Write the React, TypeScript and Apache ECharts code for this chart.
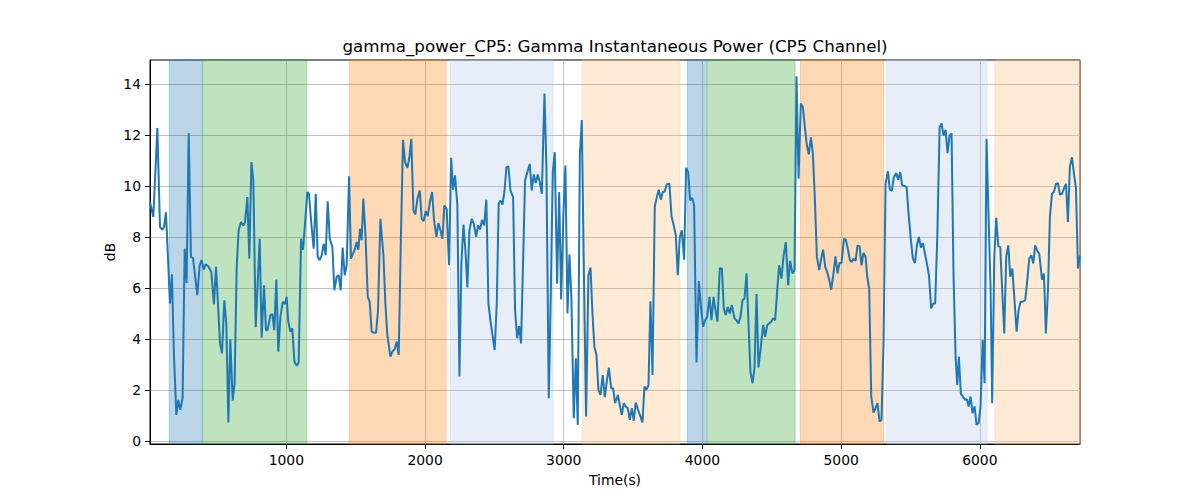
import React, { useEffect, useRef } from "react";
import * as echarts from "echarts";

const TITLE = "gamma_power_CP5: Gamma Instantaneous Power (CP5 Channel)";
const X_NAME = "Time(s)";
const Y_NAME = "dB";

const timeSec = [
  17, 41, 70, 89, 106, 118, 132, 161, 175, 190, 207, 221, 235, 252, 267, 281, 296, 312, 327, 358, 375, 389, 404, 418, 437, 459, 478, 493, 522, 536, 553, 567, 582, 596, 613, 627, 642, 656, 673, 690, 702, 719, 733, 748, 762, 779, 808, 822, 839,
  853, 865, 885, 899, 913, 928, 942, 957, 974, 990, 1002, 1014, 1029, 1043, 1058, 1074, 1089, 1106, 1120, 1135, 1151, 1163, 1180, 1197, 1212, 1226, 1240, 1255, 1269, 1284, 1298, 1313, 1332, 1346, 1363, 1377, 1392, 1406, 1421, 1435, 1452, 1466, 1481, 1495, 1507, 1519, 1531, 1543, 1555, 1570, 1587, 1601, 1615, 1630, 1647, 1661, 1678,
  1700, 1714, 1728, 1750, 1764, 1781, 1796, 1810, 1825, 1841, 1856, 1873, 1887, 1901, 1916, 1930, 1945, 1962, 1976, 1990, 2005, 2019, 2036, 2051, 2065, 2082, 2096, 2111, 2125, 2139, 2156, 2173, 2188, 2202, 2216, 2233, 2248, 2262, 2277, 2291, 2305, 2320, 2337, 2351, 2368, 2382, 2397, 2411, 2426, 2442, 2457, 2471, 2488, 2502, 2517, 2531,
  2543, 2558, 2572, 2587, 2601, 2616, 2635, 2649, 2664, 2678, 2692, 2707, 2721, 2741, 2755, 2769, 2784, 2798, 2813, 2827, 2842, 2861, 2875, 2892, 2906, 2921, 2935, 2952, 2967, 2981, 2998, 3012, 3027, 3041, 3055, 3072, 3087, 3101, 3116, 3130, 3147, 3161, 3178, 3193, 3207, 3221, 3236, 3250, 3265, 3281, 3296, 3310, 3325, 3342, 3356, 3370,
  3390, 3404, 3418, 3433, 3447, 3462, 3476, 3491, 3505, 3519, 3536, 3553, 3567, 3582, 3596, 3611, 3625, 3640, 3656, 3671, 3685, 3700, 3714, 3728, 3743, 3762, 3777, 3793, 3808, 3822, 3837, 3851, 3868, 3882, 3897, 3911, 3926, 3940, 3957, 3974, 3988, 4005, 4019, 4034, 4051, 4065, 4080, 4094, 4108, 4125, 4140, 4154, 4168, 4183, 4197, 4212,
  4231, 4245, 4260, 4274, 4289, 4303, 4318, 4332, 4346, 4361, 4375, 4390, 4404, 4421, 4438, 4452, 4467, 4481, 4495, 4510, 4524, 4539, 4553, 4570, 4584, 4601, 4618, 4632, 4649, 4664, 4678, 4693, 4709, 4724, 4738, 4753, 4767, 4782, 4796, 4810, 4825, 4842, 4856, 4870, 4885, 4899, 4914, 4928, 4943, 4959, 4974, 4988, 5003, 5020, 5034, 5048, 5063,
  5075, 5089, 5104, 5118, 5133, 5147, 5161, 5176, 5188, 5202, 5217, 5233, 5248, 5262, 5277, 5291, 5306, 5320, 5337, 5351, 5366, 5380, 5397, 5411, 5426, 5440, 5455, 5472, 5486, 5503, 5517, 5532, 5546, 5560, 5575, 5589, 5604, 5618, 5633, 5649, 5664, 5678, 5693, 5710, 5724, 5738, 5753, 5767, 5782, 5796, 5810, 5825, 5837, 5849, 5863, 5878, 5892, 5907,
  5919, 5933, 5947, 5962, 5976, 5991, 6005, 6020, 6034, 6048, 6063, 6077, 6089, 6104, 6118, 6133, 6147, 6161, 6176, 6190, 6205, 6219, 6234, 6248, 6265, 6279, 6294, 6308, 6327, 6342, 6356, 6371, 6385, 6399, 6414, 6428, 6448, 6462, 6476, 6491, 6505, 6520, 6534, 6549, 6563, 6577, 6592, 6606, 6621, 6635, 6649, 6664, 6678, 6693, 6707, 6722,
];

const gammaDb = [
  9.38, 8.79, 12.28, 8.40, 8.29, 8.40, 8.98, 5.40, 6.55, 3.32, 1.04, 1.63, 1.24, 1.69, 7.55, 6.21, 12.07, 7.23, 7.19, 5.73, 6.90, 7.10, 6.73, 6.94, 6.86, 6.64, 5.38, 6.84, 3.84, 3.45, 5.53, 4.62, 0.74, 4.00, 1.60, 2.28, 6.84, 8.27, 8.59, 8.46, 8.59, 9.57, 7.16, 10.94, 10.22, 4.47, 7.94, 4.06, 6.12,
  4.36, 4.36, 4.95, 4.99, 4.36, 6.34, 3.52, 4.88, 5.47, 5.38, 5.66, 4.69, 4.30, 4.43, 3.13, 2.96, 3.09, 7.94, 7.51, 8.55, 9.77, 9.70, 8.53, 7.55, 9.70, 7.23, 7.10, 7.29, 7.75, 7.29, 9.41, 7.94, 7.62, 5.92, 6.45, 6.51, 5.92, 7.59, 6.51, 6.90, 10.39, 7.16, 7.36, 7.55, 7.81, 7.51, 8.33, 7.88, 9.51, 8.14, 5.66, 5.47, 4.30, 4.26, 4.26, 5.14, 8.72,
  7.29, 5.40, 4.17, 3.32, 3.52, 3.61, 3.91, 3.39, 7.75, 11.81, 10.94, 10.72, 11.13, 11.85, 9.05, 8.89, 9.51, 9.83, 8.72, 8.63, 9.02, 8.82, 9.41, 9.77, 8.66, 8.01, 8.55, 8.27, 7.94, 9.24, 9.10, 6.90, 11.11, 9.86, 10.42, 9.24, 2.54, 6.97, 8.49, 7.49, 6.03, 8.27, 8.72, 8.53, 8.01, 8.46, 8.31, 8.68, 8.46, 9.47, 5.40, 4.75, 4.10, 3.58, 5.40, 9.31,
  9.44, 9.28, 9.77, 10.74, 10.77, 9.83, 9.57, 5.14, 4.04, 4.52, 3.84, 7.10, 10.22, 10.61, 10.87, 9.83, 10.46, 10.12, 10.46, 10.16, 9.70, 13.63, 10.74, 1.69, 5.66, 10.55, 11.33, 6.18, 9.77, 5.56, 8.98, 10.81, 5.01, 7.32, 5.66, 0.91, 3.26, 0.65, 11.20, 12.59, 5.92, 0.98, 6.51, 6.81, 5.01, 3.71, 3.39, 2.02, 1.82, 2.60, 1.73, 2.34, 2.89, 2.08, 2.08, 1.50,
  1.82, 1.43, 1.04, 1.50, 1.37, 1.30, 0.85, 1.30, 0.81, 1.52, 1.24, 0.98, 0.74, 2.15, 2.02, 2.21, 5.49, 2.60, 9.18, 9.57, 9.86, 9.47, 9.77, 9.79, 10.07, 10.09, 8.82, 8.46, 8.07, 6.51, 8.01, 8.27, 7.12, 10.72, 10.55, 9.44, 9.54, 9.24, 3.09, 6.28, 5.34, 4.49, 4.75, 4.88, 5.66, 4.75, 5.66, 5.14, 4.69, 6.78, 6.77, 5.21, 4.95, 5.27, 5.01, 5.34,
  4.82, 4.75, 4.62, 4.88, 5.53, 5.60, 6.58, 4.62, 2.73, 2.28, 2.86, 5.77, 2.90, 3.71, 4.56, 4.10, 4.56, 4.62, 4.69, 4.82, 4.75, 5.92, 6.90, 6.38, 7.23, 7.81, 6.12, 7.07, 6.58, 6.71, 14.30, 10.29, 13.24, 13.09, 12.33, 11.59, 11.24, 11.91, 11.26, 9.57, 7.23, 6.71, 7.16, 7.51, 6.84, 6.64, 6.32, 5.95, 6.51, 7.25, 6.58, 6.99, 6.99, 7.94, 7.90, 7.55, 7.10,
  7.03, 7.16, 7.07, 7.68, 7.64, 6.90, 7.38, 7.23, 6.45, 5.99, 1.76, 1.13, 1.30, 1.50, 0.78, 0.85, 3.97, 10.09, 10.59, 9.86, 9.83, 10.35, 10.51, 10.25, 10.55, 10.03, 10.01, 9.96, 8.92, 7.88, 7.16, 6.99, 7.68, 8.01, 7.59, 7.77, 7.36, 6.97, 6.51, 5.21, 5.40, 5.40, 8.01, 12.30, 12.46, 11.98, 12.20, 11.29, 11.98, 12.07, 6.58, 3.32, 2.21, 3.32, 1.86, 1.76, 1.63, 1.65,
  1.37, 1.76, 1.11, 1.37, 0.65, 0.72, 1.37, 3.97, 2.28, 11.85, 8.79, 6.05, 1.50, 7.23, 8.76, 7.64, 7.62, 5.92, 4.23, 7.23, 7.68, 6.45, 6.77, 5.66, 4.30, 5.14, 5.47, 5.47, 5.53, 6.32, 7.16, 7.29, 6.97, 7.68, 7.46, 7.36, 6.34, 6.58, 4.23, 5.92, 8.79, 9.70, 9.77, 10.09, 10.12, 9.67, 9.70, 9.90, 10.09, 8.59, 10.77, 11.13, 10.51, 9.90, 6.77, 7.29,
];

// shaded intervals (seconds) and their kind
const spanStart = [156, 396, 1455, 2183, 3135, 3892, 4036, 4706, 5326, 6108];
const spanEnd = [393, 1148, 2152, 2924, 3835, 4030, 4668, 5307, 6053, 6722];
const spanKind = ["a", "b", "c", "d", "e", "a", "b", "c", "d", "e"];

const xTickValues = [1000, 2000, 3000, 4000, 5000, 6000];
const yTickValues = [0, 2, 4, 6, 8, 10, 12, 14];

const X_MIN = 17;
const X_MAX = 6722;
const Y_MIN = -0.1;
const Y_MAX = 14.94;

const KIND_COLOR: Record<string, string> = {
  a: "rgba(31,119,180,0.3)",
  b: "rgba(44,160,44,0.3)",
  c: "rgba(255,127,14,0.3)",
  d: "rgba(174,199,232,0.3)",
  e: "rgba(255,187,120,0.3)",
};

const FONT = "DejaVu Sans";

export default function App() {
  const ref = useRef<HTMLDivElement>(null);

  useEffect(() => {
    if (!ref.current) return;
    const chart = echarts.init(ref.current, undefined, { renderer: "svg" });

    const lineData = timeSec.map((t, i) => [t, gammaDb[i]]);
    const areas = spanStart.map((s, i) => [
      {
        xAxis: s,
        itemStyle: {
          color: KIND_COLOR[spanKind[i]],
          borderColor: KIND_COLOR[spanKind[i]],
          borderWidth: 1,
        },
      },
      { xAxis: spanEnd[i] },
    ]);

    const axisText = { fontFamily: FONT, fontSize: 13.9, color: "#000" };

    chart.setOption({
      animation: false,
      backgroundColor: "#fff",
      title: {
        text: TITLE,
        left: 615,
        top: 37.5,
        padding: 0,
        textAlign: "center",
        textStyle: { fontFamily: FONT, fontSize: 16.7, fontWeight: "normal", color: "#000" },
      },
      grid: {
        left: 150,
        right: 120,
        top: 60,
        bottom: 56,
        show: true,
        borderColor: "#000",
        borderWidth: 1,
        backgroundColor: "transparent",
      },
      xAxis: {
        type: "value",
        min: X_MIN,
        max: X_MAX,
        name: X_NAME,
        nameLocation: "middle",
        nameGap: 29,
        nameTextStyle: axisText,
        axisLine: { show: true, onZero: false, lineStyle: { color: "#000", width: 1 } },
        axisTick: { show: true, customValues: xTickValues, length: 5, lineStyle: { color: "#000", width: 1 } },
        axisLabel: {
          customValues: xTickValues,
          margin: 9,
          formatter: (v: number) => String(v),
          ...axisText,
        },
        splitLine: { show: true, lineStyle: { color: "#b0b0b0", width: 0.8 } },
      },
      yAxis: {
        type: "value",
        min: Y_MIN,
        max: Y_MAX,
        name: Y_NAME,
        nameLocation: "middle",
        nameGap: 33,
        nameMoveOverlap: false,
        nameTextStyle: axisText,
        axisLine: { show: true, onZero: false, lineStyle: { color: "#000", width: 1 } },
        axisTick: { show: true, customValues: yTickValues, length: 5, lineStyle: { color: "#000", width: 1 } },
        axisLabel: {
          customValues: yTickValues,
          margin: 9,
          formatter: (v: number) => String(v),
          ...axisText,
        },
        splitLine: { show: true, lineStyle: { color: "#b0b0b0", width: 0.8 } },
      },
      series: [
        {
          type: "line",
          data: lineData,
          showSymbol: false,
          symbol: "none",
          clip: true,
          lineStyle: { color: "#1f77b4", width: 2 },
          itemStyle: { color: "#1f77b4" },
          markArea: { silent: true, data: areas },
          z: 3,
        },
      ],
    });

    return () => chart.dispose();
  }, []);

  return (
    <div
      ref={ref}
      style={{ position: "absolute", left: 0, top: 0, width: 1200, height: 500 }}
    />
  );
}
